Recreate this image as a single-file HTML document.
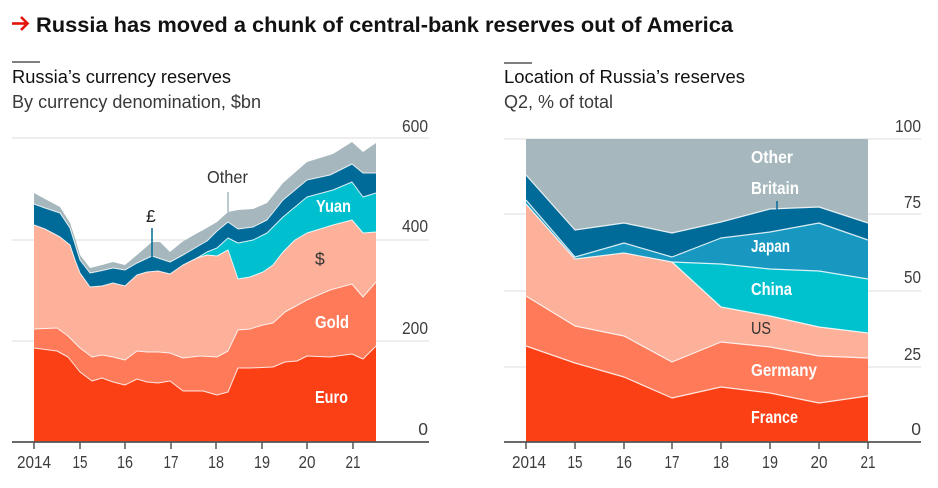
<!DOCTYPE html>
<html><head><meta charset="utf-8">
<style>html,body{margin:0;padding:0;background:#fff}svg{display:block}</style>
</head>
<body>
<svg width="938" height="488" viewBox="0 0 938 488" xmlns="http://www.w3.org/2000/svg" font-family="'Liberation Sans', sans-serif">
<!-- Title -->
<path d="M12,23.5 L27,23.5" stroke="#e3120b" stroke-width="2.6" fill="none"/>
<path d="M21,17 L27.5,23.5 L21,30" stroke="#e3120b" stroke-width="2.6" fill="none"/>
<text x="36" y="32" font-size="21" font-weight="bold" fill="#121212" textLength="697" lengthAdjust="spacingAndGlyphs">Russia has moved a chunk of central-bank reserves out of America</text>

<!-- LEFT CHART -->
<line x1="12" y1="62" x2="40" y2="62" stroke="#555" stroke-width="1.5"/>
<text x="12" y="83" font-size="18.5" fill="#111" textLength="219" lengthAdjust="spacingAndGlyphs">Russia’s currency reserves</text>
<text x="12" y="108" font-size="18" fill="#3a3a3a" textLength="249" lengthAdjust="spacingAndGlyphs">By currency denomination, $bn</text>

<g stroke="#dcdcdc" stroke-width="1">
<line x1="12" y1="138" x2="429" y2="138"/>
<line x1="12" y1="240" x2="429" y2="240"/>
<line x1="12" y1="341" x2="429" y2="341"/>
</g>
<g font-size="17.5" fill="#3d3d3d" text-anchor="end">
<text x="428" y="132" textLength="26" lengthAdjust="spacingAndGlyphs">600</text>
<text x="428" y="232" textLength="26" lengthAdjust="spacingAndGlyphs">400</text>
<text x="428" y="334" textLength="26" lengthAdjust="spacingAndGlyphs">200</text>
<text x="428" y="435">0</text>
</g>

<!-- Other (gray) -->
<path fill="#a6b8bd" d="M34,193 L45,199 L60,207 L70,223 L75,238 L80,255 L90,268 L102,265 L113,262 L125,265 L137,255 L152,242 L160,242 L170,252 L182,242 L194,235 L205,229 L217,222 L228,212 L238,210 L253,209 L267,203 L283,183 L307,162 L333,154 L352,142 L363,152 L376,143 L376,442 L34,442 Z"/>
<!-- £ (dark blue) -->
<path fill="#006b99" d="M34,204 L45,208 L60,213 L70,228 L75,244 L80,260 L90,273 L100,271 L113,268 L125,270 L137,263 L152,256 L158,258 L170,262 L183,255 L200,245 L207,241 L217,231 L228,222 L238,229 L253,227 L267,220 L283,200 L307,180 L330,175 L352,164 L363,173 L376,173 L376,442 L34,442 Z"/>
<!-- Yuan (cyan) -->
<path fill="#00c0cf" d="M34,225 L45,229 L60,237 L70,245 L75,260 L80,273 L90,287 L102,286 L113,283 L125,286 L137,275 L147,272 L158,271 L170,274 L183,265 L197,258 L207,252 L217,248 L228,238 L238,243 L253,240 L267,233 L283,217 L307,197 L333,190 L352,182 L363,197 L376,193 L376,442 L34,442 Z"/>
<!-- $ (salmon) -->
<path fill="#fdb09a" d="M34,225 L45,229 L60,237 L70,245 L75,260 L80,273 L90,287 L102,286 L113,283 L125,286 L137,275 L147,272 L158,271 L170,274 L183,265 L197,258 L207,255 L217,256 L228,250 L238,279 L250,277 L263,272 L273,265 L283,252 L295,240 L307,233 L333,225 L352,220 L363,233 L376,232 L376,442 L34,442 Z"/>
<!-- Gold -->
<path fill="#ff7a58" d="M34,329 L57,328 L68,336 L80,348 L92,357 L102,355 L113,357 L125,360 L137,351 L147,352 L158,352 L170,353 L183,358 L200,356 L217,357 L228,351 L238,330 L250,329 L263,325 L273,323 L285,312 L307,300 L330,290 L352,284 L363,297 L376,282 L376,442 L34,442 Z"/>
<!-- Euro -->
<path fill="#fc4016" d="M34,348 L57,351 L68,357 L80,372 L92,381 L102,378 L113,382 L125,385 L137,379 L147,382 L158,383 L170,381 L183,391 L203,391 L217,395 L228,392 L238,368 L250,368 L273,367 L285,362 L297,361 L307,356 L330,357 L352,354 L363,359 L376,346 L376,442 L34,442 Z"/>

<g fill="none" stroke="#ffffff" stroke-width="1" stroke-opacity="0.85" stroke-linejoin="round">
<polyline points="34,204 45,208 60,213 70,228 75,244 80,260 90,273 100,271 113,268 125,270 137,263 152,256 158,258 170,262 183,255 200,245 207,241 217,231 228,222 238,229 253,227 267,220 283,200 307,180 330,175 352,164 363,173 376,173"/>
<polyline points="197,258 207,252 217,248 228,238 238,243 253,240 267,233 283,217 307,197 333,190 352,182 363,197 376,193"/>
<polyline points="34,225 45,229 60,237 70,245 75,260 80,273 90,287 102,286 113,283 125,286 137,275 147,272 158,271 170,274 183,265 197,258 207,255 217,256 228,250 238,279 250,277 263,272 273,265 283,252 295,240 307,233 333,225 352,220 363,233 376,232"/>
<polyline points="34,329 57,328 68,336 80,348 92,357 102,355 113,357 125,360 137,351 147,352 158,352 170,353 183,358 200,356 217,357 228,351 238,330 250,329 263,325 273,323 285,312 307,300 330,290 352,284 363,297 376,282"/>
<polyline points="34,348 57,351 68,357 80,372 92,381 102,378 113,382 125,385 137,379 147,382 158,383 170,381 183,391 203,391 217,395 228,392 238,368 250,368 273,367 285,362 297,361 307,356 330,357 352,354 363,359 376,346"/>
</g>

<!-- leaders -->
<line x1="152" y1="228" x2="152" y2="257" stroke="#006b99" stroke-width="1.5"/>
<line x1="228" y1="192" x2="228" y2="212" stroke="#a6b8bd" stroke-width="1.5"/>

<g font-size="17.5">
<text x="207" y="183" fill="#333" textLength="41" lengthAdjust="spacingAndGlyphs">Other</text>
<text x="146" y="222" fill="#222">£</text>
<text x="315" y="265" fill="#333">$</text>
</g>
<g font-size="17.5" font-weight="bold" fill="#ffffff">
<text x="316" y="212" textLength="35" lengthAdjust="spacingAndGlyphs">Yuan</text>
<text x="315" y="328" textLength="34" lengthAdjust="spacingAndGlyphs">Gold</text>
<text x="315" y="403" textLength="33" lengthAdjust="spacingAndGlyphs">Euro</text>
</g>

<!-- left axis -->
<line x1="12" y1="442" x2="429" y2="442" stroke="#555" stroke-width="1.7"/>
<g stroke="#555" stroke-width="1.5">
<line x1="34" y1="442" x2="34" y2="449"/><line x1="80" y1="442" x2="80" y2="449"/>
<line x1="125" y1="442" x2="125" y2="449"/><line x1="171" y1="442" x2="171" y2="449"/>
<line x1="216" y1="442" x2="216" y2="449"/><line x1="262" y1="442" x2="262" y2="449"/>
<line x1="307" y1="442" x2="307" y2="449"/><line x1="353" y1="442" x2="353" y2="449"/>
</g>
<g font-size="17.5" fill="#3d3d3d" text-anchor="middle">
<text x="34" y="468" textLength="34" lengthAdjust="spacingAndGlyphs">2014</text>
<text x="80" y="468" textLength="15" lengthAdjust="spacingAndGlyphs">15</text>
<text x="125" y="468" textLength="16" lengthAdjust="spacingAndGlyphs">16</text>
<text x="171" y="468" textLength="15" lengthAdjust="spacingAndGlyphs">17</text>
<text x="216" y="468" textLength="16" lengthAdjust="spacingAndGlyphs">18</text>
<text x="262" y="468" textLength="16" lengthAdjust="spacingAndGlyphs">19</text>
<text x="307" y="468" textLength="17" lengthAdjust="spacingAndGlyphs">20</text>
<text x="353" y="468" textLength="15" lengthAdjust="spacingAndGlyphs">21</text>
</g>

<!-- RIGHT CHART -->
<line x1="504" y1="63" x2="532" y2="63" stroke="#555" stroke-width="1.5"/>
<text x="504" y="83" font-size="18.5" fill="#111" textLength="241" lengthAdjust="spacingAndGlyphs">Location of Russia’s reserves</text>
<text x="504" y="108" font-size="18" fill="#3a3a3a" textLength="109" lengthAdjust="spacingAndGlyphs">Q2, % of total</text>

<g stroke="#dcdcdc" stroke-width="1">
<line x1="504" y1="139" x2="921" y2="139"/>
<line x1="504" y1="214" x2="921" y2="214"/>
<line x1="504" y1="291" x2="921" y2="291"/>
<line x1="504" y1="367" x2="921" y2="367"/>
</g>
<g font-size="17.5" fill="#3d3d3d" text-anchor="end">
<text x="921" y="132" textLength="26" lengthAdjust="spacingAndGlyphs">100</text>
<text x="921" y="208" textLength="17" lengthAdjust="spacingAndGlyphs">75</text>
<text x="921" y="283" textLength="17" lengthAdjust="spacingAndGlyphs">50</text>
<text x="921" y="360" textLength="17" lengthAdjust="spacingAndGlyphs">25</text>
<text x="921" y="435">0</text>
</g>

<path fill="#a6b8bd" d="M526,139 L868,139 L868,442 L526,442 Z"/>
<path fill="#006b99" d="M526,175 L575,230 L624,223 L672,233 L721,222 L770,209 L819,207 L868,223 L868,442 L526,442 Z"/>
<path fill="#1898c0" d="M526,200 L575,257 L624,243 L672,257 L721,238 L770,232 L819,223 L868,240 L868,442 L526,442 Z"/>
<path fill="#00c2cf" d="M526,204 L575,259 L624,253 L672,262 L721,264 L770,269 L819,271 L868,279 L868,442 L526,442 Z"/>
<path fill="#fdb09a" d="M526,204 L575,259 L624,253 L672,262 L721,307 L770,316 L819,327 L868,333 L868,442 L526,442 Z"/>
<path fill="#ff7a58" d="M526,296 L575,326 L624,336 L672,362 L721,342 L770,347 L819,356 L868,358 L868,442 L526,442 Z"/>
<path fill="#fc4016" d="M526,346 L575,363 L624,377 L672,398 L721,387 L770,393 L819,403 L868,396 L868,442 L526,442 Z"/>

<g fill="none" stroke="#ffffff" stroke-width="1.2" stroke-opacity="0.85" stroke-linejoin="round">
<polyline points="526,175 575,230 624,223 672,233 721,222 770,209 819,207 868,223"/>
<polyline points="526,200 575,257 624,243 672,257 721,238 770,232 819,223 868,240"/>
<polyline points="526,204 575,259 624,253 672,262 721,264 770,269 819,271 868,279"/>
<polyline points="672,262 721,307 770,316 819,327 868,333"/>
<polyline points="526,296 575,326 624,336 672,362 721,342 770,347 819,356 868,358"/>
<polyline points="526,346 575,363 624,377 672,398 721,387 770,393 819,403 868,396"/>
</g>

<line x1="777" y1="201" x2="777" y2="210" stroke="#006b99" stroke-width="1.5"/>

<g font-size="17.5" font-weight="bold" fill="#ffffff">
<text x="751" y="163" textLength="42" lengthAdjust="spacingAndGlyphs">Other</text>
<text x="751" y="194" textLength="48" lengthAdjust="spacingAndGlyphs">Britain</text>
<text x="751" y="252" textLength="39" lengthAdjust="spacingAndGlyphs">Japan</text>
<text x="751" y="295" textLength="41" lengthAdjust="spacingAndGlyphs">China</text>
<text x="751" y="376" textLength="66" lengthAdjust="spacingAndGlyphs">Germany</text>
<text x="751" y="423" textLength="47" lengthAdjust="spacingAndGlyphs">France</text>
</g>
<text x="751" y="334" font-size="17.5" fill="#333" textLength="20" lengthAdjust="spacingAndGlyphs">US</text>

<line x1="504" y1="442" x2="921" y2="442" stroke="#555" stroke-width="1.7"/>
<g stroke="#555" stroke-width="1.5">
<line x1="526" y1="442" x2="526" y2="449"/><line x1="575" y1="442" x2="575" y2="449"/>
<line x1="624" y1="442" x2="624" y2="449"/><line x1="672" y1="442" x2="672" y2="449"/>
<line x1="721" y1="442" x2="721" y2="449"/><line x1="770" y1="442" x2="770" y2="449"/>
<line x1="819" y1="442" x2="819" y2="449"/><line x1="868" y1="442" x2="868" y2="449"/>
</g>
<g font-size="17.5" fill="#3d3d3d" text-anchor="middle">
<text x="529" y="468" textLength="34" lengthAdjust="spacingAndGlyphs">2014</text>
<text x="575" y="468" textLength="15" lengthAdjust="spacingAndGlyphs">15</text>
<text x="624" y="468" textLength="16" lengthAdjust="spacingAndGlyphs">16</text>
<text x="672" y="468" textLength="15" lengthAdjust="spacingAndGlyphs">17</text>
<text x="721" y="468" textLength="16" lengthAdjust="spacingAndGlyphs">18</text>
<text x="770" y="468" textLength="16" lengthAdjust="spacingAndGlyphs">19</text>
<text x="819" y="468" textLength="17" lengthAdjust="spacingAndGlyphs">20</text>
<text x="868" y="468" textLength="15" lengthAdjust="spacingAndGlyphs">21</text>
</g>
</svg>
</body></html>
